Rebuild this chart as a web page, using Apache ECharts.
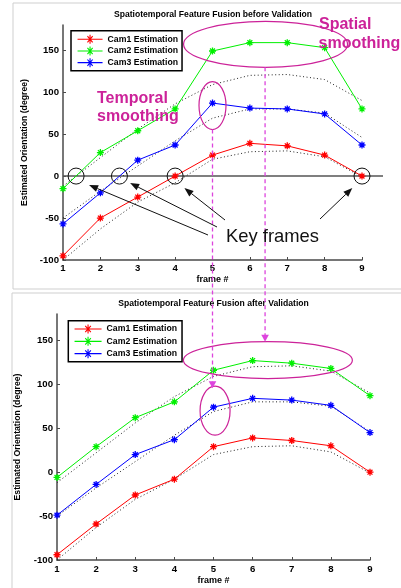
<!DOCTYPE html>
<html><head><meta charset="utf-8">
<script src="https://cdn.jsdelivr.net/npm/echarts@6/dist/echarts.min.js"></script>
<style>html,body{margin:0;padding:0;background:#fff}#c{width:401px;height:588px}</style>
</head><body><div id="c"></div>
<script>
// ---- data ----
const frames = [1, 2, 3, 4, 5, 6, 7, 8, 9];
const yTicks = [-100, -50, 0, 50, 100, 150];
const seriesNames = ['Cam1 Estimation', 'Cam2 Estimation', 'Cam3 Estimation'];
const titleBefore = 'Spatiotemporal Feature Fusion before Validation';
const titleAfter = 'Spatiotemporal Feature Fusion after Validation';
const beforeCam1 = [-95, -50, -25, 0, 25, 39, 36, 25, 0];
const beforeCam2 = [-15, 28, 54, 80, 149, 159, 159, 153, 80];
const beforeCam3 = [-57, -20, 19, 37, 87, 81, 80, 74, 37];
const afterCam1 = [-94, -59, -26, -8, 29, 39, 36, 30, 0];
const afterCam2 = [-6, 29, 62, 80, 116, 127, 124, 118, 87];
const afterCam3 = [-49, -14, 20, 37, 74, 84, 82, 76, 45];
const truthCam1 = [-100, -63, -31, -8, 20, 29, 30, 23, -1];
const truthCam2 = [-12, 22, 56, 86, 109, 120, 121, 115, 90];
const truthCam3 = [-50, -18, 12, 42, 69, 80, 80, 75, 46];
const keyFrameCrossings = [1.35, 2.51, 4, 9];

// ---- styling ----
const FONT = 'Liberation Sans, Arial, Helvetica, sans-serif';
const colors = ['#ff0000', '#00f000', '#0000ff'];
const star = 'path://M0,5L10,5M5,0L5,10M1.5,1.5L8.5,8.5M1.5,8.5L8.5,1.5';
const legendIcon = 'path://M0,4.5L25,4.5M12.5,0.8L12.5,8.2M9.9,1.9L15.1,7.1M9.9,7.1L15.1,1.9';
const MAG = '#cc2299';
const DASH = '#dd44dd';

function pts(d) { return frames.map((f, i) => [f, d[i]]); }
function est(name, d, color, gi) {
  return { name, type: 'line', xAxisIndex: gi, yAxisIndex: gi, data: pts(d),
    symbol: star, symbolSize: 7, lineStyle: { color, width: 1 },
    itemStyle: { color, borderColor: color, borderWidth: 1.3 },
    z: 4, animation: false, emphasis: { disabled: true } };
}
function gt(d, gi) {
  return { type: 'line', xAxisIndex: gi, yAxisIndex: gi, data: pts(d), symbol: 'none',
    lineStyle: { color: '#222', width: 1, type: [1, 2.5] }, z: 3, silent: true, animation: false };
}
function xAx(gi, gap, margin) {
  return { type: 'value', gridIndex: gi, min: 1, max: 9, interval: 1, name: 'frame #',
    nameLocation: 'middle', nameGap: gap,
    nameTextStyle: { fontWeight: 'bold', fontSize: 9, color: '#000', fontFamily: FONT },
    axisLine: { onZero: false, lineStyle: { color: '#4a4a4a', width: 1.5 } },
    axisTick: { inside: true, length: 3, lineStyle: { color: '#4a4a4a' } },
    axisLabel: { fontWeight: 'bold', fontSize: 9.6, color: '#000', margin, fontFamily: FONT },
    splitLine: { show: false } };
}
function yAx(gi, gap) {
  return { type: 'value', gridIndex: gi, min: -100, max: 180, interval: 50,
    name: 'Estimated Orientation (degree)', nameLocation: 'middle', nameGap: gap,
    nameTextStyle: { fontWeight: 'bold', fontSize: 8.7, color: '#000', fontFamily: FONT },
    axisLine: { onZero: false, lineStyle: { color: '#4a4a4a', width: 1.5 } },
    axisTick: { inside: true, length: 3, customValues: yTicks, lineStyle: { color: '#4a4a4a' } },
    axisLabel: { fontWeight: 'bold', fontSize: 9.6, color: '#000', margin: 4, fontFamily: FONT,
      customValues: yTicks, formatter: v => (yTicks.indexOf(v) >= 0 ? String(v) : '') },
    splitLine: { show: false } };
}
function leg(left, top, padding, itemWidth, itemGap) {
  return { data: seriesNames.map(n => ({ name: n, icon: legendIcon })), orient: 'vertical', left, top, padding,
    itemWidth, itemHeight: 9, itemGap, symbolKeepAspect: false,
    itemStyle: { borderWidth: 1.1, borderColor: 'inherit' },
    borderColor: '#000', borderWidth: 1.5, backgroundColor: '#fff', selectedMode: false, z: 10,
    textStyle: { fontWeight: 'bold', fontSize: 8.7, color: '#000', fontFamily: FONT } };
}

const chart = echarts.init(document.getElementById('c'), null, { renderer: 'canvas' });
chart.setOption({
  animation: false,
  backgroundColor: '#fff',
  textStyle: { fontFamily: FONT },
  grid: [
    { left: 63, right: 39, top: 25, bottom: 328, outerBoundsMode: 'none' },
    { left: 57, right: 31, top: 314, bottom: 28, outerBoundsMode: 'none' }
  ],
  xAxis: [xAx(0, 15, 3), xAx(1, 16, 4)],
  yAxis: [yAx(0, 32), yAx(1, 35)],
  legend: [leg(71, 30.7, [3.5, 4, 3, 6], 25, 1.6), leg(68.3, 320.7, [3.3, 5, 3, 5.7], 27, 2.2)],
  series: [
    gt(truthCam1, 0), gt(truthCam2, 0), gt(truthCam3, 0),
    est(seriesNames[0], beforeCam1, colors[0], 0),
    est(seriesNames[1], beforeCam2, colors[1], 0),
    est(seriesNames[2], beforeCam3, colors[2], 0),
    gt(truthCam1, 1), gt(truthCam2, 1), gt(truthCam3, 1),
    est(seriesNames[0], afterCam1, colors[0], 1),
    est(seriesNames[1], afterCam2, colors[1], 1),
    est(seriesNames[2], afterCam3, colors[2], 1)
  ]
});

// ---- annotations ----
const P = (gi, x, y) => chart.convertToPixel({ gridIndex: gi }, [x, y]);
const g = [];
g.push({ type: 'rect', shape: { x: 13, y: 3, width: 400, height: 286 }, style: { fill: 'none', stroke: '#cfcfcf', lineWidth: 1 }, z: 0, silent: true });
g.push({ type: 'rect', shape: { x: 12, y: 293, width: 400, height: 300 }, style: { fill: 'none', stroke: '#cfcfcf', lineWidth: 1 }, z: 0, silent: true });
g.push({ type: 'text', x: 213, y: 15, style: { text: titleBefore, font: 'bold 8.6px ' + FONT, fill: '#000', textAlign: 'center', textVerticalAlign: 'middle' } });
g.push({ type: 'text', x: 213.5, y: 303.3, style: { text: titleAfter, font: 'bold 8.6px ' + FONT, fill: '#000', textAlign: 'center', textVerticalAlign: 'middle' } });

// zero line in top chart
const z0 = P(0, 1, 0);
g.push({ type: 'line', shape: { x1: z0[0], y1: z0[1], x2: 383, y2: z0[1] }, style: { stroke: '#555', lineWidth: 1.5 }, z: 2 });

// key-frame circles
const circ = keyFrameCrossings.map(x => P(0, x, 0));
circ.forEach(c => g.push({ type: 'circle', shape: { cx: c[0], cy: c[1], r: 8 }, style: { fill: 'none', stroke: '#111', lineWidth: 1 }, z: 20 }));

function arrow(x1, y1, x2, y2, color, hl, hw) {
  const dx = x2 - x1, dy = y2 - y1, L = Math.hypot(dx, dy), ux = dx / L, uy = dy / L;
  const bx = x2 - ux * hl, by = y2 - uy * hl;
  g.push({ type: 'line', shape: { x1, y1, x2: bx, y2: by }, style: { stroke: color, lineWidth: 1 }, z: 20 });
  g.push({ type: 'polygon', shape: { points: [[x2, y2], [bx - uy * hw, by + ux * hw], [bx + uy * hw, by - ux * hw]] }, style: { fill: color }, z: 20 });
}
const tipOff = [[13, 9], [10.7, 7], [9.3, 12], [-9.7, 12]];
const tails = [[208, 235], [217, 227], [225, 220], [320, 219]];
circ.forEach((c, i) => arrow(tails[i][0], tails[i][1], c[0] + tipOff[i][0], c[1] + tipOff[i][1], '#111', 9, 3.5));
g.push({ type: 'text', x: 226, y: 237, style: { text: 'Key frames', font: '18.4px ' + FONT, fill: '#111', textVerticalAlign: 'middle' }, z: 20 });

// smoothing ellipses
function ell(gi, x, y, rx, ry) {
  const c = P(gi, x, y);
  g.push({ type: 'ellipse', shape: { cx: c[0], cy: c[1], rx, ry }, style: { fill: 'none', stroke: MAG, lineWidth: 1.2 }, z: 15 });
  return c;
}
const sT = ell(0, 6.42, 157, 82, 23);
const tT = ell(0, 5.0, 84, 13.5, 24);
const sB = ell(1, 6.39, 127.5, 84.5, 18.5);
const tB = ell(1, 5.04, 70, 15, 24.5);

// dashed connectors
function conn(x, yFrom, yTo) {
  g.push({ type: 'line', shape: { x1: x, y1: yFrom, x2: x, y2: yTo - 6 }, style: { stroke: DASH, lineWidth: 1.3, lineDash: [4, 3] }, z: 16 });
  g.push({ type: 'polygon', shape: { points: [[x - 3.8, yTo - 7], [x + 3.8, yTo - 7], [x, yTo]] }, style: { fill: DASH }, z: 16 });
}
conn(tT[0], tT[1] + 24, tB[1] - 24.5 + 2);
conn(sT[0] - 0.5, sT[1] + 23, sB[1] - 18.5 + 0);

// text labels
const magFont = 'bold 16px ' + FONT;
g.push({ type: 'text', x: 97, y: 99, style: { text: 'Temporal', font: magFont, fill: MAG, textVerticalAlign: 'middle' }, z: 21 });
g.push({ type: 'text', x: 97, y: 117, style: { text: 'smoothing', font: magFont, fill: MAG, textVerticalAlign: 'middle' }, z: 21 });
g.push({ type: 'text', x: 319, y: 24.5, style: { text: 'Spatial', font: magFont, fill: MAG, textVerticalAlign: 'middle' }, z: 21 });
g.push({ type: 'text', x: 318.5, y: 43.5, style: { text: 'smoothing', font: magFont, fill: MAG, textVerticalAlign: 'middle' }, z: 21 });

chart.setOption({ graphic: g });
</script></body></html>
